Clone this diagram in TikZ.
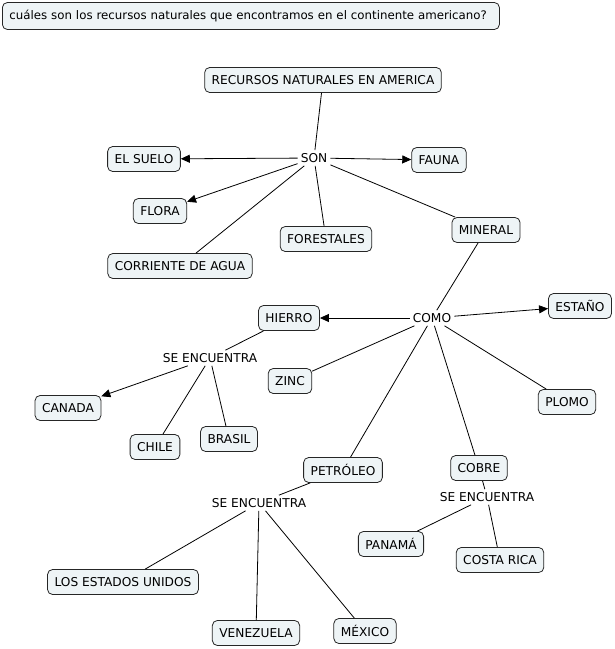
\documentclass[tikz,border=0pt]{standalone}
\usepackage{fontspec}
\setmainfont{DejaVu Sans}
\usetikzlibrary{arrows.meta}
\definecolor{boxfill}{RGB}{238,244,246}
\tikzset{
  concept/.style={draw=black!85, fill=boxfill, rounded corners=5pt, line width=0.8pt,
    minimum height=25pt, inner xsep=7pt, inner ysep=2pt, font=\fontsize{12.2}{14}\selectfont},
  linkph/.style={inner sep=3pt, font=\fontsize{12.2}{14}\selectfont},
  conn/.style={draw=black, line width=0.8pt},
  arr/.style={conn, -{Triangle[length=9pt,width=8pt]}}
}
\begin{document}
\begin{tikzpicture}[x=1pt,y=-1pt]
\useasboundingbox (0,0) rectangle (615,649);
\node[concept, anchor=west, text width=483pt, align=left, minimum height=27pt, font=\fontsize{11.8}{14}\selectfont] (q) at (2,16) {\mbox{cuáles son los recursos naturales que encontramos en el continente americano?}};
\node[concept] (rec) at (323,80) {RECURSOS NATURALES EN AMERICA};
\node[linkph] (son) at (314,158) {SON};
\node[concept] (suelo) at (144,159) {EL SUELO};
\node[concept] (fauna) at (439,160) {FAUNA};
\node[concept] (flora) at (160,211) {FLORA};
\node[concept] (forest) at (326,239) {FORESTALES};
\node[concept] (mineral) at (486,230) {MINERAL};
\node[concept] (agua) at (180,266) {CORRIENTE DE AGUA};
\node[linkph] (como) at (432,318) {COMO};
\node[concept] (hierro) at (289,318) {HIERRO};
\node[concept] (estano) at (580,306) {ESTAÑO};
\node[linkph] (se1) at (210,358) {SE ENCUENTRA};
\node[concept] (zinc) at (290,381) {ZINC};
\node[concept] (plomo) at (567,402) {PLOMO};
\node[concept] (canada) at (68,408) {CANADA};
\node[concept] (chile) at (155,447) {CHILE};
\node[concept] (brasil) at (229,439) {BRASIL};
\node[concept] (petroleo) at (343,470) {PETRÓLEO};
\node[concept] (cobre) at (479,468) {COBRE};
\node[linkph] (se2) at (487,497) {SE ENCUENTRA};
\node[linkph] (se3) at (259,503) {SE ENCUENTRA};
\node[concept] (panama) at (391,544) {PANAMÁ};
\node[concept] (costa) at (500,560) {COSTA RICA};
\node[concept] (eeuu) at (123,582) {LOS ESTADOS UNIDOS};
\node[concept] (vene) at (256,633) {VENEZUELA};
\node[concept] (mexico) at (365,631) {MÉXICO};

\draw[conn] (rec) -- (son);
\draw[arr] (son) -- (suelo);
\draw[arr] (son) -- (fauna);
\draw[arr] (son) -- (flora);
\draw[conn] (son) -- (forest);
\draw[conn] (son) -- (mineral);
\draw[conn] (son) -- (agua);
\draw[conn] (mineral) -- (como);
\draw[arr] (como) -- (hierro);
\draw[arr] (como) -- (estano);
\draw[conn] (como) -- (zinc);
\draw[conn] (como) -- (plomo);
\draw[conn] (como) -- (petroleo);
\draw[conn] (como) -- (cobre);
\draw[conn] (hierro) -- (se1);
\draw[arr] (se1) -- (canada);
\draw[conn] (se1) -- (chile);
\draw[conn] (se1) -- (brasil);
\draw[conn] (cobre) -- (se2);
\draw[conn] (se2) -- (panama);
\draw[conn] (se2) -- (costa);
\draw[conn] (petroleo) -- (se3);
\draw[conn] (se3) -- (eeuu);
\draw[conn] (se3) -- (vene);
\draw[conn] (se3) -- (mexico);
\end{tikzpicture}
\end{document}
